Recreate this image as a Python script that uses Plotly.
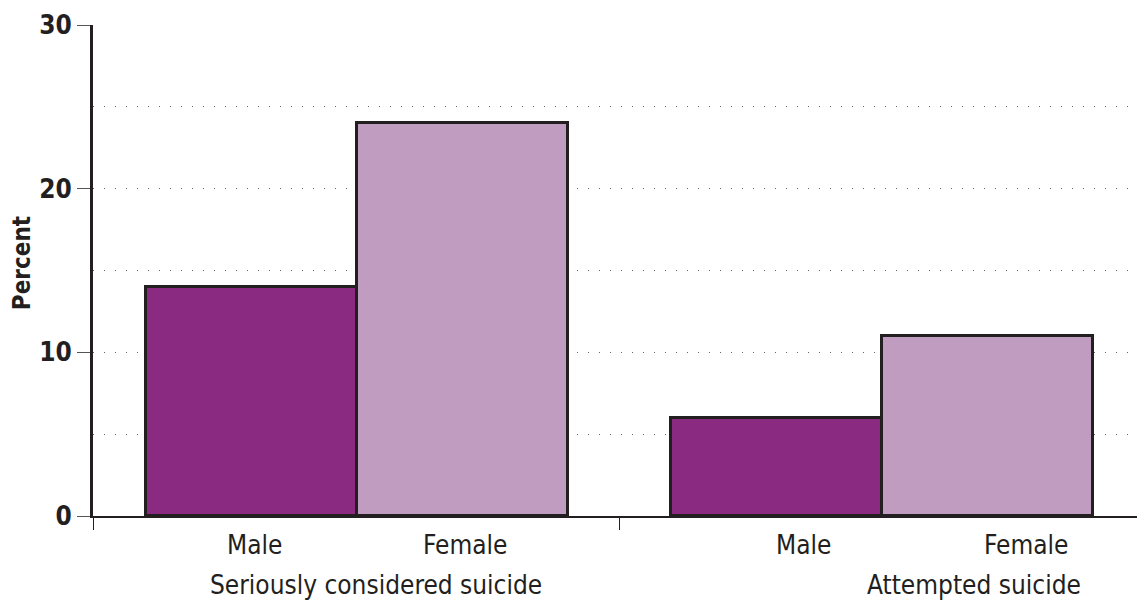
import plotly.graph_objects as go

# Survey results by sex
groups = ["Seriously considered suicide", "Attempted suicide"]
sexes = ["Male", "Female"]
male_pct = [14, 6]
female_pct = [24, 11]
y_ticks = [0, 10, 20, 30]

MALE_COLOR = "#8a2a80"
FEMALE_COLOR = "#c19cc1"
INK = "#231f20"
FONT = "DejaVu Sans Condensed, Liberation Sans Narrow, sans-serif"

GROUP_STEP = 2.488  # distance between group starts, in bar widths
x_male = [i * GROUP_STEP for i in range(len(groups))]
x_female = [x + 1 for x in x_male]
x_left = -0.751
x_right = x_left + 4.948
x_sep = (x_female[0] + x_male[1]) / 2

fig = go.Figure()
for name, xs, ys, col in [("Male", x_male, male_pct, MALE_COLOR),
                          ("Female", x_female, female_pct, FEMALE_COLOR)]:
    fig.add_trace(go.Bar(
        x=xs, y=ys, name=name, width=1,
        marker=dict(color=col, line=dict(color=INK, width=3)),
        showlegend=False,
    ))

# Sex labels under each bar and group labels beneath
sex_shift = {(0, 0): 3, (0, 1): 3, (1, 0): 27, (1, 1): 39}
for gi, g in enumerate(groups):
    for si, s in enumerate(sexes):
        fig.add_annotation(
            x=(x_male if si == 0 else x_female)[gi], y=0, xref="x", yref="paper",
            text=s, showarrow=False, yanchor="middle", yshift=-29,
            xshift=sex_shift[(gi, si)],
            font=dict(family=FONT, size=26, color=INK),
        )
group_shift = [19, 92]
for gi, g in enumerate(groups):
    fig.add_annotation(
        x=x_male[gi] + 0.5, y=0, xref="x", yref="paper",
        text=g, showarrow=False, yanchor="middle", yshift=-69,
        xshift=group_shift[gi],
        font=dict(family=FONT, size=26, color=INK),
    )

# Rotated axis title
fig.add_annotation(
    x=0, y=0.515, xref="paper", yref="paper", xanchor="center", yanchor="middle",
    xshift=-71, text="Percent", textangle=-90, showarrow=False,
    font=dict(family=FONT, size=24, color=INK, weight="bold"),
)

fig.update_layout(
    width=1137, height=605,
    margin=dict(l=93, r=0, t=25, b=89),
    paper_bgcolor="white", plot_bgcolor="white",
    bargap=0,
    font=dict(family=FONT, color=INK),
    xaxis=dict(
        range=[x_left, x_right],
        tickvals=[x_left, x_sep], ticktext=["", ""],
        ticks="outside", ticklen=12, tickwidth=1, tickcolor=INK,
        showgrid=False, zeroline=False,
        showline=True, linecolor=INK, linewidth=2,
    ),
    yaxis=dict(
        range=[0, 30],
        tickvals=y_ticks, ticktext=[str(v) for v in y_ticks],
        ticks="outside", ticklen=13, tickwidth=1, tickcolor="#555555",
        tickfont=dict(family=FONT, size=26, color=INK, weight="bold"),
        showgrid=True, gridcolor="#666666", gridwidth=1, griddash="1px,10px",
        minor=dict(dtick=5, showgrid=True, gridcolor="#666666", gridwidth=1,
                   griddash="1px,10px", ticks=""),
        zeroline=False,
        showline=True, linecolor=INK, linewidth=3,
    ),
)

fig.write_html("out.html")
